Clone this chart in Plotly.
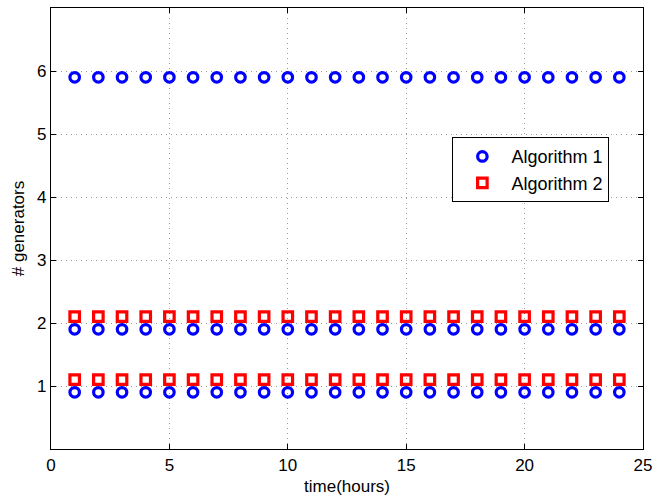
import plotly.graph_objects as go

hours = [1, 2, 3, 4, 5, 6, 7, 8, 9, 10, 11, 12, 13, 14, 15, 16, 17, 18, 19, 20, 21, 22, 23, 24]
alg1_high = [5.9, 5.9, 5.9, 5.9, 5.9, 5.9, 5.9, 5.9, 5.9, 5.9, 5.9, 5.9, 5.9, 5.9, 5.9, 5.9, 5.9, 5.9, 5.9, 5.9, 5.9, 5.9, 5.9, 5.9]
alg1_mid = [1.9, 1.9, 1.9, 1.9, 1.9, 1.9, 1.9, 1.9, 1.9, 1.9, 1.9, 1.9, 1.9, 1.9, 1.9, 1.9, 1.9, 1.9, 1.9, 1.9, 1.9, 1.9, 1.9, 1.9]
alg1_low = [0.9, 0.9, 0.9, 0.9, 0.9, 0.9, 0.9, 0.9, 0.9, 0.9, 0.9, 0.9, 0.9, 0.9, 0.9, 0.9, 0.9, 0.9, 0.9, 0.9, 0.9, 0.9, 0.9, 0.9]
alg2_mid = [2.1, 2.1, 2.1, 2.1, 2.1, 2.1, 2.1, 2.1, 2.1, 2.1, 2.1, 2.1, 2.1, 2.1, 2.1, 2.1, 2.1, 2.1, 2.1, 2.1, 2.1, 2.1, 2.1, 2.1]
alg2_low = [1.1, 1.1, 1.1, 1.1, 1.1, 1.1, 1.1, 1.1, 1.1, 1.1, 1.1, 1.1, 1.1, 1.1, 1.1, 1.1, 1.1, 1.1, 1.1, 1.1, 1.1, 1.1, 1.1, 1.1]

x_ticks = [0, 5, 10, 15, 20, 25]
y_ticks = [1, 2, 3, 4, 5, 6]

FONT = "Liberation Sans, Arial, Helvetica, sans-serif"

fig = go.Figure()
fig.add_trace(go.Scatter(
    x=hours + hours + hours, y=alg1_high + alg1_mid + alg1_low,
    mode="markers", name="Algorithm 1",
    marker=dict(symbol="circle-open", size=9.5, color="#0000ff", line=dict(width=3.2, color="#0000ff")),
))
fig.add_trace(go.Scatter(
    x=hours + hours, y=alg2_mid + alg2_low,
    mode="markers", name="Algorithm 2",
    marker=dict(symbol="square-open", size=9.5, color="#ff0000", line=dict(width=3.2, color="#ff0000")),
))

axis_common = dict(
    showline=True, linecolor="black", linewidth=1.3, mirror="ticks",
    ticks="inside", ticklen=5, tickcolor="black",
    showgrid=True, gridcolor="#999999", griddash="1px,4px", gridwidth=1,
    zeroline=False, tickfont=dict(family=FONT, size=17, color="black"),
    ticklabeloverflow="allow", automargin=False,
)

fig.update_layout(
    width=654, height=497,
    margin=dict(l=51, r=11, t=8, b=48),
    paper_bgcolor="white", plot_bgcolor="white",
    font=dict(family=FONT, size=17, color="black"),
    showlegend=True,
    legend=dict(
        x=0.678, y=0.707, xanchor="left", yanchor="top",
        bgcolor="white", bordercolor="black", borderwidth=1,
        font=dict(family=FONT, size=18, color="black"),
        itemwidth=48, tracegroupgap=2,
    ),
    xaxis=dict(range=[0, 25], tickvals=x_ticks, title=dict(text="time(hours)", standoff=6,
               font=dict(family=FONT, size=17)), **axis_common),
    yaxis=dict(range=[0, 7], tickvals=y_ticks, title=dict(text="# generators", standoff=8,
               font=dict(family=FONT, size=17)), **axis_common),
)

fig.write_html("out.html")
